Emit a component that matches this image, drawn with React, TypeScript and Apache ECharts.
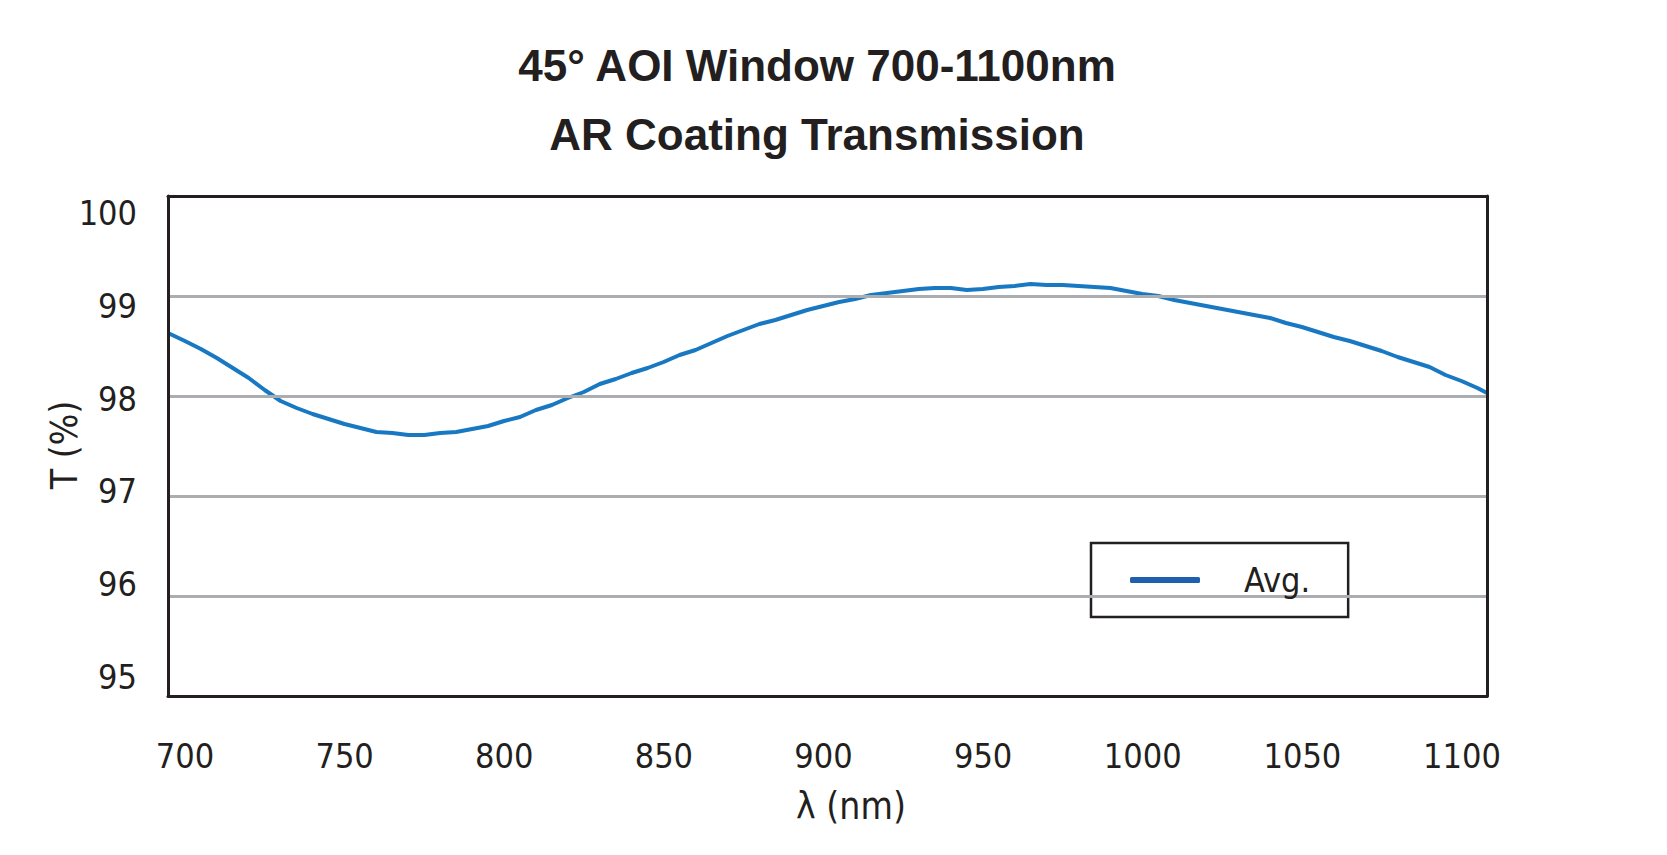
import React, { useEffect, useRef } from "react";
import * as echarts from "echarts";

const titleLines = ["45° AOI Window 700-1100nm", "AR Coating Transmission"];
const xAxisName = "λ (nm)";
const yAxisName = "T (%)";
const seriesName = "Avg.";

const wavelengths = [
  694.7, 700, 705, 710, 715, 720, 725, 730, 735, 740, 745, 750, 755, 760, 765, 770, 775, 780,
  785, 790, 795, 800, 805, 810, 815, 820, 825, 830, 835, 840, 845, 850, 855, 860, 865, 870,
  875, 880, 885, 890, 895, 900, 905, 910, 915, 920, 925, 930, 935, 940, 945, 950, 955, 960,
  965, 970, 975, 980, 985, 990, 995, 1000, 1005, 1010, 1015, 1020, 1025, 1030, 1035, 1040,
  1045, 1050, 1055, 1060, 1065, 1070, 1075, 1080, 1085, 1090, 1095, 1100, 1105, 1108,
];
const transmission = [
  98.63, 98.55, 98.47, 98.38, 98.28, 98.18, 98.06, 97.95, 97.88, 97.82, 97.77, 97.72, 97.68, 97.64,
  97.63, 97.61, 97.61, 97.63, 97.64, 97.67, 97.7, 97.75, 97.79, 97.86, 97.91, 97.98, 98.04, 98.12,
  98.17, 98.23, 98.28, 98.34, 98.41, 98.46, 98.53, 98.6, 98.66, 98.72, 98.76, 98.81, 98.86, 98.9,
  98.94, 98.97, 99.01, 99.03, 99.05, 99.07, 99.08, 99.08, 99.06, 99.07, 99.09, 99.1, 99.12, 99.11,
  99.11, 99.1, 99.09, 99.08, 99.05, 99.02, 99.0, 98.96, 98.93, 98.9, 98.87, 98.84, 98.81, 98.78,
  98.73, 98.69, 98.64, 98.59, 98.55, 98.5, 98.45, 98.39, 98.34, 98.29, 98.21, 98.15, 98.08, 98.03,
];

const xRange = [694.7, 1108];
const xTickRange = [700, 1100];
const xTickStep = 50;
const yRange = [95, 100];
const yTickStep = 1;

const INK = "#231f20";
const NARROW = "'DejaVu Sans Condensed', 'Liberation Sans Narrow', 'Arial Narrow', sans-serif";

export default function App() {
  const ref = useRef<HTMLDivElement>(null);

  useEffect(() => {
    document.body.style.margin = "0";
    const chart = echarts.init(ref.current!, null, { renderer: "svg" });
    const data = wavelengths.map((w, i) => [w, transmission[i]]);
    const borderLine = { show: true, onZero: false, lineStyle: { color: INK, width: 3 } };
    const hidden = {
      axisTick: { show: false },
      axisLabel: { show: false },
      splitLine: { show: false },
    };

    chart.setOption({
      animation: false,
      backgroundColor: "#ffffff",
      title: {
        text: titleLines.join("\n"),
        left: 812,
        top: 26,
        textAlign: "center",
        textStyle: {
          fontFamily: "'Liberation Sans', Arial, sans-serif",
          fontWeight: "bold",
          fontSize: 44,
          lineHeight: 69,
          color: INK,
        },
      },
      legend: {
        data: [{ name: seriesName, itemStyle: { color: "#1f5fad" } }],
        left: 1091,
        top: 543,
        orient: "horizontal",
        icon: "roundRect",
        itemWidth: 70,
        itemHeight: 6,
        padding: [20, 38, 20, 39],
        borderColor: INK,
        borderWidth: 2.5,
        borderRadius: 0,
        backgroundColor: "#ffffff",
        textStyle: {
          fontFamily: NARROW,
          fontSize: 34,
          color: INK,
          padding: [0, 0, 0, 39],
        },
      },
      grid: [
        { left: 168, top: 196, width: 1319, height: 500, show: false },
        { left: 185, top: 213, width: 1277, height: 464, show: false },
      ],
      xAxis: [
        {
          gridIndex: 0,
          type: "value",
          position: "bottom",
          min: xRange[0],
          max: xRange[1],
          axisLine: borderLine,
          ...hidden,
          z: 5,
        },
        {
          gridIndex: 1,
          type: "value",
          min: xTickRange[0],
          max: xTickRange[1],
          interval: xTickStep,
          axisLine: { show: false },
          axisTick: { show: false },
          splitLine: { show: false },
          axisLabel: {
            margin: 62,
            fontFamily: NARROW,
            fontSize: 34,
            color: INK,
            formatter: (v: number) => String(v),
          },
          name: xAxisName,
          nameLocation: "middle",
          nameGap: 111,
          nameMoveOverlap: false,
          nameTextStyle: {
            fontFamily: NARROW,
            fontSize: 37,
            color: INK,
            padding: [0, 0, 0, 55],
          },
        },
        {
          gridIndex: 0,
          type: "value",
          position: "top",
          min: xRange[0],
          max: xRange[1],
          axisLine: borderLine,
          ...hidden,
          z: 5,
        },
      ],
      yAxis: [
        {
          gridIndex: 0,
          type: "value",
          position: "left",
          min: yRange[0],
          max: yRange[1],
          interval: yTickStep,
          axisLine: borderLine,
          axisTick: { show: false },
          axisLabel: { show: false },
          splitLine: { show: true, lineStyle: { color: "#acadb0", width: 3 } },
          z: 4,
        },
        {
          gridIndex: 1,
          type: "value",
          min: yRange[0],
          max: yRange[1],
          interval: yTickStep,
          axisLine: { show: false },
          axisTick: { show: false },
          splitLine: { show: false },
          axisLabel: {
            margin: 48,
            fontFamily: NARROW,
            fontSize: 34,
            color: INK,
          },
          name: yAxisName,
          nameLocation: "middle",
          nameGap: 102,
          nameMoveOverlap: false,
          nameTextStyle: {
            fontFamily: NARROW,
            fontSize: 37,
            color: INK,
          },
        },
        {
          gridIndex: 0,
          type: "value",
          position: "right",
          min: yRange[0],
          max: yRange[1],
          axisLine: borderLine,
          ...hidden,
          z: 5,
        },
      ],
      series: [
        {
          name: seriesName,
          type: "line",
          xAxisIndex: 0,
          yAxisIndex: 0,
          data,
          showSymbol: false,
          symbol: "none",
          smooth: false,
          z: 3,
          lineStyle: { color: "#1878c2", width: 4 },
          itemStyle: { color: "#1878c2" },
        },
      ],
    });

    return () => chart.dispose();
  }, []);

  return <div ref={ref} style={{ width: 1667, height: 855 }} />;
}
